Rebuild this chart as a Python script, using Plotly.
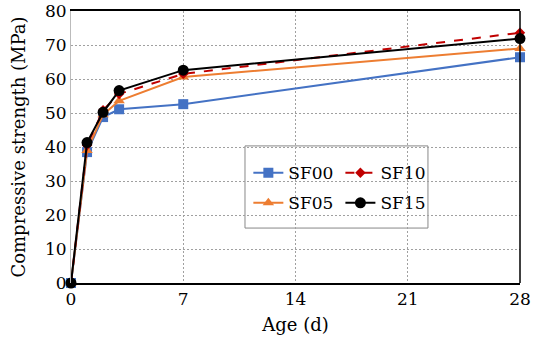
import plotly.graph_objects as go

age = [0, 1, 2, 3, 7, 28]
sf00 = [0, 38.5, 48.8, 51.1, 52.6, 66.4]
sf05 = [0, 39.0, 49.5, 53.6, 60.6, 69.0]
sf10 = [0, 40.5, 50.8, 55.6, 61.5, 73.6]
sf15 = [0, 41.3, 50.2, 56.6, 62.6, 71.9]

x_ticks = [0, 7, 14, 21, 28]
y_ticks = [0, 10, 20, 30, 40, 50, 60, 70, 80]

FONT = "DejaVu Serif"

fig = go.Figure()
fig.add_trace(go.Scatter(x=age, y=sf00, name="SF00", mode="lines+markers",
                         line=dict(color="#4472C4", width=2), cliponaxis=False,
                         marker=dict(symbol="square", size=10, color="#4472C4"),
                         legend="legend", legendgroup="a"))
fig.add_trace(go.Scatter(x=age, y=sf05, name="SF05", mode="lines+markers",
                         line=dict(color="#ED7D31", width=2), cliponaxis=False,
                         marker=dict(symbol="triangle-up", size=10, color="#ED7D31"),
                         legend="legend", legendgroup="b"))
fig.add_trace(go.Scatter(x=age, y=sf10, name="SF10", mode="lines+markers",
                         line=dict(color="#C00000", width=2, dash="dash"), cliponaxis=False,
                         marker=dict(symbol="diamond", size=8, color="#C00000"),
                         legend="legend2", legendgroup="c"))
fig.add_trace(go.Scatter(x=age, y=sf15, name="SF15", mode="lines+markers",
                         line=dict(color="#000000", width=2), cliponaxis=False,
                         marker=dict(symbol="circle", size=11, color="#000000"),
                         legend="legend2", legendgroup="d"))

fig.update_layout(
    width=533, height=342,
    margin=dict(l=71, r=13, t=11, b=59, autoexpand=False),
    plot_bgcolor="white", paper_bgcolor="white",
    font=dict(family=FONT, size=17, color="black"),
    showlegend=True,
    legend=dict(x=0.395, y=0.47, xanchor="left", yanchor="top",
                bgcolor="rgba(0,0,0,0)", borderwidth=0,
                font=dict(family=FONT, size=17), tracegroupgap=5,
                itemwidth=30),
    legend2=dict(x=0.60, y=0.47, xanchor="left", yanchor="top",
                 bgcolor="rgba(0,0,0,0)", borderwidth=0,
                 font=dict(family=FONT, size=17), tracegroupgap=5,
                 itemwidth=30),
    shapes=[
        dict(type="rect", xref="paper", yref="paper", x0=0.3875, x1=0.795,
             y0=0.202, y1=0.504, line=dict(color="#888888", width=1),
             fillcolor="white", layer="below"),
        dict(type="line", xref="paper", yref="paper", x0=1, x1=1, y0=0, y1=1,
             line=dict(color="black", width=1.5)),
    ],
)
fig.update_xaxes(range=[0, 28], tickvals=x_ticks, ticks="", showline=True,
                 linecolor="black", linewidth=1.5, mirror=True, automargin=False,
                 showgrid=True, gridcolor="#A0A0A0", griddash="2px,2px", gridwidth=1,
                 zeroline=False,
                 title=dict(text="Age (d)", standoff=10, font=dict(family=FONT, size=18)),
                 tickfont=dict(family=FONT, size=17))
fig.update_yaxes(range=[0, 80], tickvals=y_ticks, ticks="", showline=True,
                 linecolor="#BBBBBB", linewidth=1, automargin=False,
                 showgrid=True, gridcolor="#A0A0A0", griddash="2px,2px", gridwidth=1,
                 zeroline=False,
                 title=dict(text="Compressive strength (MPa)", standoff=14, font=dict(family=FONT, size=18)),
                 tickfont=dict(family=FONT, size=17))

fig.write_html("out.html")
